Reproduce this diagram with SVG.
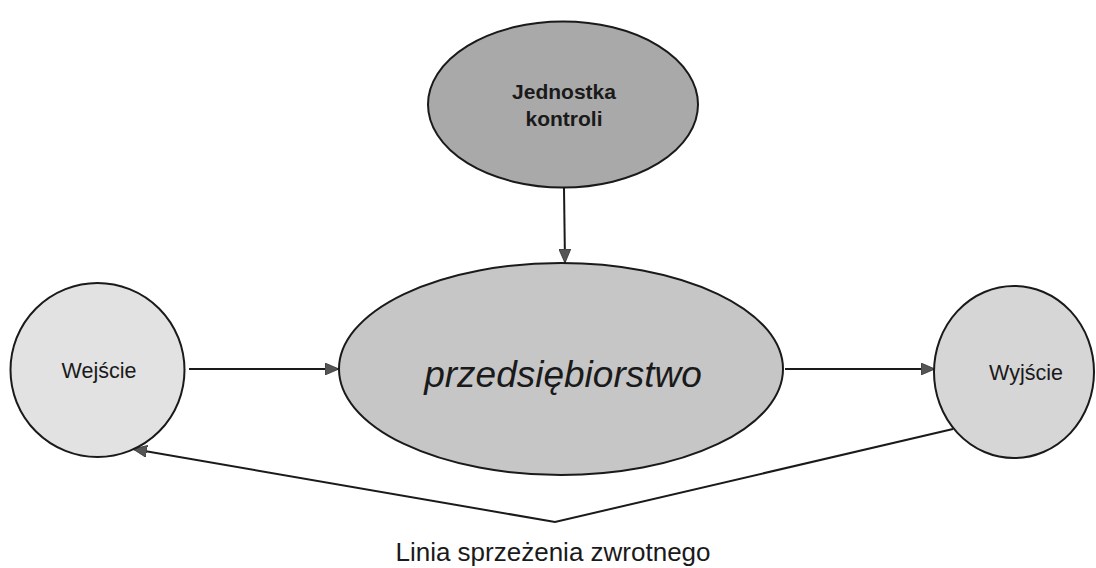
<svg xmlns="http://www.w3.org/2000/svg" width="1096" height="568" viewBox="0 0 1096 568">
<style>
.node{stroke:#1a1a1a;stroke-width:2}
.lbl{font-family:"Liberation Sans",Arial,sans-serif;fill:#1a1a1a;text-anchor:middle}
.conn{stroke:#1a1a1a;stroke-width:2;fill:none}
</style>
<defs>
<marker id="arr" viewBox="0 0 14 12" refX="14" refY="6" markerWidth="14" markerHeight="12" markerUnits="userSpaceOnUse" orient="auto">
<path d="M0,0 L14,6 L0,12 Z" fill="#555555" stroke="#333333" stroke-width="0.8"/>
</marker>
</defs>
<rect width="1096" height="568" fill="#ffffff"/>
<g id="connectors">
<line class="conn" x1="564" y1="188" x2="565" y2="263" marker-end="url(#arr)"/>
<line class="conn" x1="189" y1="369" x2="339" y2="369" marker-end="url(#arr)"/>
<line class="conn" x1="785" y1="369" x2="935" y2="369" marker-end="url(#arr)"/>
<polyline class="conn" points="953,429 555,522 133,449" marker-end="url(#arr)"/>
</g>
<g id="kontrola">
<ellipse class="node" cx="563" cy="104.5" rx="135" ry="83" fill="#a9a9a9"/>
<text class="lbl" x="564" y="99" font-size="21" font-weight="bold" fill="#2a2a2a">Jednostka</text>
<text class="lbl" x="564" y="126" font-size="21" font-weight="bold" fill="#2a2a2a">kontroli</text>
</g>
<g id="przedsiebiorstwo">
<ellipse class="node" cx="561" cy="369" rx="222" ry="106" fill="#c6c6c6"/>
<text class="lbl" x="563" y="387" font-size="37" font-style="italic">przedsiębiorstwo</text>
</g>
<g id="wejscie">
<circle class="node" cx="97.5" cy="370" r="87" fill="#e2e2e2"/>
<text class="lbl" x="99" y="378" font-size="21.5">Wejście</text>
</g>
<g id="wyjscie">
<ellipse class="node" cx="1014" cy="372" rx="80" ry="86" fill="#d6d6d6"/>
<text class="lbl" x="1026" y="380" font-size="21.5">Wyjście</text>
</g>
<g id="feedback-label">
<text class="lbl" x="553" y="561" font-size="26">Linia sprzeżenia zwrotnego</text>
</g>
</svg>
